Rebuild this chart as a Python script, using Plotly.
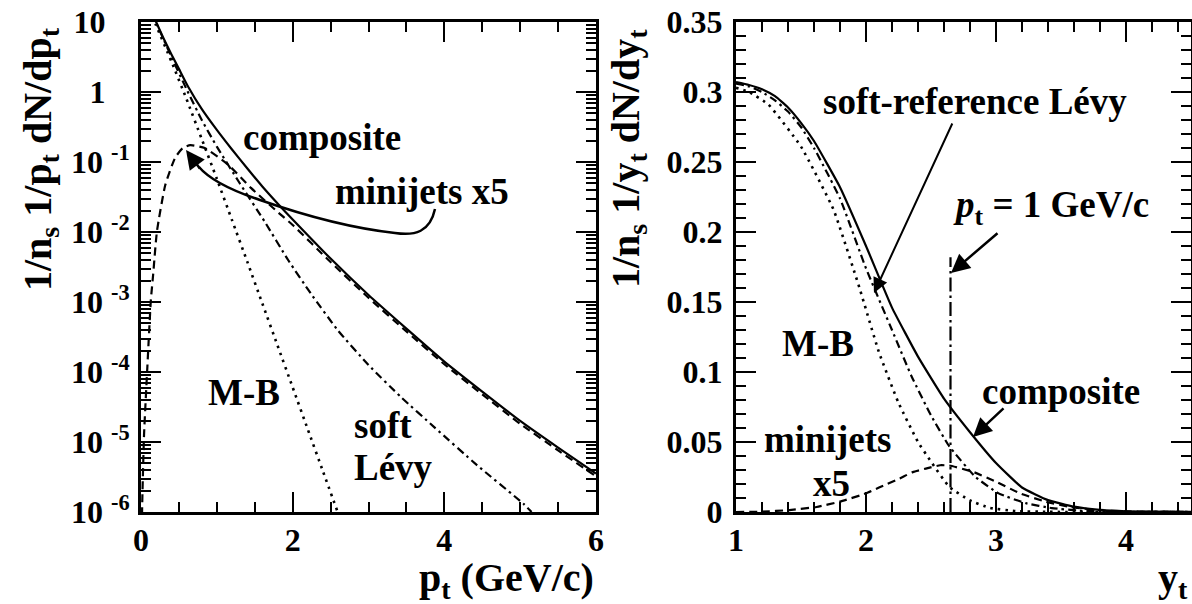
import plotly.graph_objects as go

W, H = 1192, 604
FONT = "Liberation Serif, Times New Roman, Times, serif"

# ---------------- left panel: 1/n_s 1/p_t dN/dp_t vs p_t ----------------
pt_composite = [0.18, 0.2, 0.3, 0.4, 0.5, 0.62, 0.8, 1.0, 1.2, 1.4, 1.6, 1.85, 2.0, 2.5, 3.0, 3.5, 4.0, 4.5, 5.0, 5.5, 6.0]
val_composite = [11.2, 10.0, 5.75, 3.47, 2.14, 1.20, 0.575, 0.288, 0.151, 0.0813, 0.0447, 0.0224, 0.0151,
                 4.17e-3, 1.26e-3, 4.17e-4, 1.41e-4, 5.25e-5, 2.0e-5, 8.32e-6, 3.55e-6]

pt_minijets = [0.008, 0.015, 0.04, 0.08, 0.13, 0.16, 0.21, 0.32, 0.45, 0.55, 0.65, 0.84, 1.15, 1.45, 1.85, 2.0,
               2.5, 3.0, 3.5, 4.0, 4.5, 5.0, 5.5, 6.0]
val_minijets = [2.5e-7, 1.17e-6, 1.26e-5, 9.8e-5, 1.07e-3, 2.45e-3, 0.0102, 0.0468, 0.115, 0.158, 0.174, 0.158,
                0.0912, 0.0427, 0.0174, 0.0126, 3.72e-3, 1.15e-3, 3.8e-4, 1.29e-4, 4.79e-5, 1.82e-5, 7.59e-6, 3.24e-6]

pt_soft = [0.15, 0.2, 0.4, 0.6, 0.8, 1.0, 1.3, 1.63, 1.94, 2.24, 2.6, 3.0, 3.43, 3.87, 4.43, 5.04, 5.15]
val_soft = [13.5, 9.8, 3.2, 1.1, 0.40, 0.166, 0.0501, 0.0141, 3.98e-3, 1.32e-3, 3.89e-4, 1.26e-4, 4.37e-5,
            1.62e-5, 4.68e-6, 1.32e-6, 1.0e-6]

pt_mb = [0.15, 0.2, 0.4, 0.6, 0.8, 1.0, 1.2, 1.4, 1.6, 1.8, 2.0, 2.2, 2.4, 2.6]
val_mb = [12.0, 8.91, 2.75, 0.794, 0.214, 0.0575, 0.0148, 3.8e-3, 9.55e-4, 2.4e-4, 6.03e-5, 1.51e-5, 3.8e-6, 9.55e-7]

left_y_tickvals = [1e-6, 1e-5, 1e-4, 1e-3, 1e-2, 1e-1, 1, 10]
left_y_ticktext = ["10\u00a0<sup>-6</sup>", "10\u00a0<sup>-5</sup>", "10\u00a0<sup>-4</sup>", "10\u00a0<sup>-3</sup>",
                   "10\u00a0<sup>-2</sup>", "10\u00a0<sup>-1</sup>", "1\u00a0\u00a0\u00a0", "10\u00a0\u00a0\u00a0"]
left_x_tickvals = [0, 2, 4, 6]

# ---------------- right panel: 1/n_s 1/y_t dN/dy_t vs y_t ----------------
yt_composite = [1.0, 1.1, 1.2, 1.3, 1.4, 1.5, 1.6, 1.8, 2.0, 2.2, 2.4, 2.6, 2.8, 3.0, 3.2, 3.4, 3.6, 3.8, 4.0,
                4.2, 4.5]
val_composite_yt = [0.307, 0.305, 0.302, 0.297, 0.289, 0.278, 0.265, 0.232, 0.190, 0.146, 0.111, 0.081, 0.057,
                    0.035, 0.0175, 0.0085, 0.0038, 0.0015, 0.0005, 0.0002, 0.00005]

yt_soft = [1.0, 1.1, 1.2, 1.3, 1.4, 1.5, 1.6, 1.8, 2.0, 2.2, 2.35, 2.5, 2.64, 2.84, 3.02, 3.23, 3.43, 3.64, 3.9,
           4.5]
val_soft_yt = [0.306, 0.304, 0.300, 0.294, 0.286, 0.275, 0.260, 0.224, 0.174, 0.130, 0.097, 0.069, 0.047,
               0.0252, 0.0133, 0.0063, 0.0028, 0.0010, 0.0002, 0.0]

yt_mb = [1.0, 1.1, 1.25, 1.5, 1.75, 1.95, 2.1, 2.25, 2.4, 2.5, 2.64, 2.8, 2.95, 3.15, 3.4, 3.8, 4.5]
val_mb_yt = [0.303, 0.300, 0.291, 0.261, 0.216, 0.160, 0.114, 0.078, 0.050, 0.036, 0.018, 0.0082, 0.0030,
             0.0007, 0.0001, 0.0, 0.0]

yt_minijets = [1.0, 1.2, 1.41, 1.62, 1.8, 2.0, 2.1, 2.26, 2.36, 2.46, 2.57, 2.64, 2.82, 3.0, 3.18, 3.38, 3.58,
               3.83, 4.1, 4.5]
val_minijets_yt = [0.0, 0.0002, 0.0014, 0.0036, 0.0074, 0.0133, 0.0175, 0.024, 0.0285, 0.031, 0.0334, 0.0332,
                   0.0288, 0.0217, 0.0135, 0.0074, 0.0035, 0.001, 0.0002, 0.0]

yt_pt1 = [2.65, 2.65]
val_pt1 = [0.0, 0.182]

# ---------------- styles ----------------
DOT = "2.5px,5px"
DASH = "8px,5px"
DASHDOT = "8px,4px,2.5px,4px"
LONGDASHDOT = "14px,4px,2.5px,4px"


def px(x):
    return x / W


def py(y):
    return 1 - y / H


fig = go.Figure()


def add_line(x, y, dash, xa, ya, width=2.2, smoothing=0.5):
    fig.add_trace(go.Scatter(x=x, y=y, mode="lines", xaxis=xa, yaxis=ya, showlegend=False, hoverinfo="skip",
                             line=dict(color="black", width=width, dash=dash, shape="spline",
                                       smoothing=smoothing)))


add_line(pt_mb, val_mb, DOT, "x", "y", width=2.6)
add_line(pt_soft, val_soft, DASHDOT, "x", "y")
add_line(pt_minijets, val_minijets, DASH, "x", "y")
add_line(pt_composite, val_composite, "solid", "x", "y")

add_line(yt_mb, val_mb_yt, DOT, "x2", "y2", width=2.6, smoothing=0.4)
add_line(yt_soft, val_soft_yt, DASHDOT, "x2", "y2", smoothing=0.4)
add_line(yt_minijets, val_minijets_yt, DASH, "x2", "y2", smoothing=0.4)
add_line(yt_composite, val_composite_yt, "solid", "x2", "y2", smoothing=0.4)
fig.add_trace(go.Scatter(x=yt_pt1, y=val_pt1, mode="lines", xaxis="x2", yaxis="y2", showlegend=False,
                         hoverinfo="skip", line=dict(color="black", width=2.2, dash=LONGDASHDOT)))

tickfont = dict(family=FONT, size=32, color="black", weight="bold")
minor_common = dict(ticks="inside", ticklen=10, tickwidth=1.5, tickcolor="black", showgrid=False)
axis_common = dict(showline=True, linecolor="black", linewidth=3, mirror="allticks", ticks="inside",
                   ticklen=20, tickwidth=1.5, tickcolor="black", showgrid=False, zeroline=False,
                   tickfont=tickfont, automargin=False)

ydom = [(H - 512) / H, (H - 22) / H]

fig.update_layout(
    width=W, height=H, autosize=False,
    margin=dict(l=0, r=0, t=0, b=0),
    paper_bgcolor="white", plot_bgcolor="white",
    showlegend=False,
    xaxis=dict(domain=[141 / W, 596 / W], range=[0, 6], tickmode="array", tickvals=left_x_tickvals,
               minor=dict(dtick=0.5, tick0=0, **minor_common), anchor="y", ticklabelstandoff=-2, **axis_common),
    yaxis=dict(domain=ydom, type="log", range=[-6, 1], tickmode="array", tickvals=left_y_tickvals,
               ticktext=left_y_ticktext, minor=dict(dtick="D1", **minor_common), anchor="x",
               ticklabelstandoff=2, **axis_common),
    xaxis2=dict(domain=[736 / W, 1191 / W], range=[1, 4.5], tick0=1, dtick=1,
                minor=dict(dtick=0.2, tick0=1, **minor_common), anchor="y2", ticklabelstandoff=-2, **axis_common),
    yaxis2=dict(domain=ydom, range=[0, 0.35], tick0=0, dtick=0.05,
                minor=dict(dtick=0.01, tick0=0, **minor_common), anchor="x2", ticklabelstandoff=4, **axis_common),
)

TXT = dict(family=FONT, size=37, color="black", weight="bold")
TITLE = dict(family=FONT, size=40, color="black", weight="bold")


def label(text, x, y, xanchor="center", yanchor="middle", font=TXT, angle=0):
    fig.add_annotation(text=text, x=px(x), y=py(y), xref="paper", yref="paper", showarrow=False,
                       xanchor=xanchor, yanchor=yanchor, font=font, textangle=angle)


def arrow(tip, tail, width=2):
    fig.add_annotation(text="", x=px(tip[0]), y=py(tip[1]), xref="paper", yref="paper", showarrow=True,
                       ax=tail[0] - tip[0], ay=tail[1] - tip[1], arrowhead=2, arrowsize=1.5,
                       arrowwidth=width, arrowcolor="black", standoff=0)


# left panel labels
label("composite", 322, 137)
label("minijets x5", 422, 191)
label("M-B", 244, 392)
label("soft", 352, 425, xanchor="left")
label("Lévy", 352, 467, xanchor="left")
label("p<sub>t</sub> (GeV/c)", 596, 580, xanchor="right", font=TITLE)
label("1/n<sub>s</sub> 1/p<sub>t</sub> dN/dp<sub>t</sub>", 40, 159, font=TITLE, angle=-90)

# curved arrow for minijets (left panel)
pts = [(435, 209), (430, 232), (415, 236), (395, 233), (350, 228), (300, 214), (260, 200),
       (230, 190), (210, 180), (199, 167)]
path = "M {:.5f} {:.5f}".format(px(pts[0][0]), py(pts[0][1]))
for i in range(1, len(pts), 3):
    seg = pts[i:i + 3]
    path += " C " + ", ".join("{:.5f} {:.5f}".format(px(a), py(b)) for a, b in seg)
fig.add_shape(type="path", path=path, xref="paper", yref="paper", line=dict(color="black", width=2.5))
arrow((186, 150), (201, 170), width=2.5)

# right panel labels
label("soft-reference Lévy", 975, 102)
label("<i>p</i><sub>t</sub> = 1 GeV/c", 1051, 207)
label("composite", 1061, 391)
label("M-B", 818, 343)
label("minijets", 827, 440)
label("x5", 831, 483)
label("y<sub>t</sub>", 1190, 580, xanchor="right", font=TITLE)
label("1/n<sub>s</sub> 1/y<sub>t</sub> dN/dy<sub>t</sub>", 628, 159, font=TITLE, angle=-90)

arrow((874, 293), (953, 122))
arrow((951, 273), (999, 232), width=2.5)
arrow((973, 437), (1005, 407), width=2.5)

fig.write_html("out.html")
